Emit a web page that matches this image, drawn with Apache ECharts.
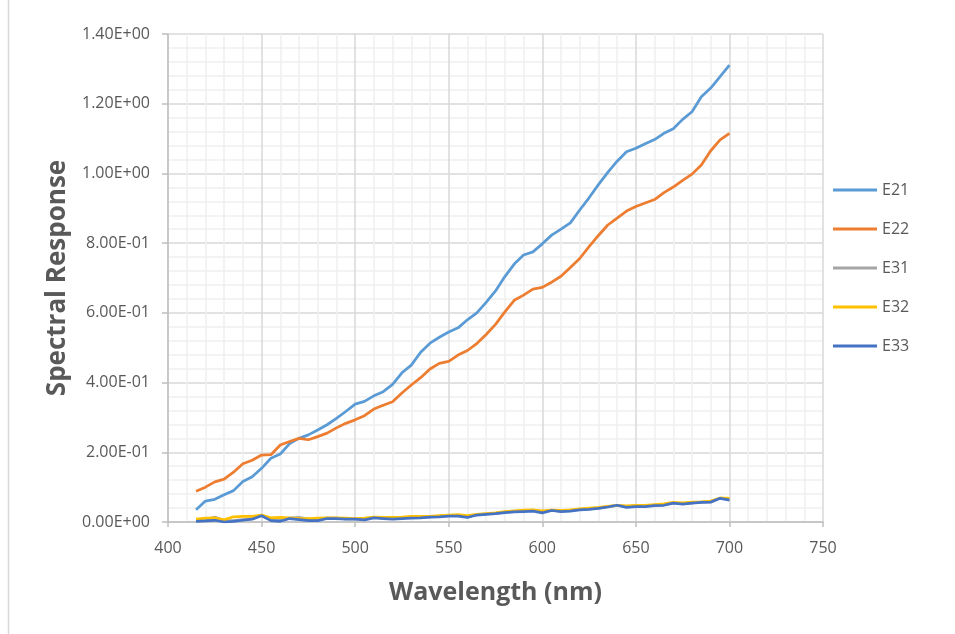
<!DOCTYPE html>
<html>
<head>
<meta charset="utf-8">
<script src="https://cdn.jsdelivr.net/npm/echarts@6/dist/echarts.min.js"></script>
<style>html,body{margin:0;padding:0;background:#fff}#c{width:955px;height:634px}</style>
</head>
<body>
<div id="c"></div>
<script>
const wavelengths = [415,420,425,430,435,440,445,450,455,460,465,470,475,480,485,490,495,500,505,510,515,520,525,530,535,540,545,550,555,560,565,570,575,580,585,590,595,600,605,610,615,620,625,630,635,640,645,650,655,660,665,670,675,680,685,690,695,700];
const E21 = [0.035,0.060,0.065,0.078,0.090,0.116,0.130,0.154,0.183,0.195,0.225,0.240,0.250,0.264,0.279,0.297,0.317,0.338,0.346,0.362,0.374,0.395,0.428,0.450,0.487,0.513,0.530,0.545,0.557,0.580,0.600,0.630,0.663,0.704,0.740,0.766,0.775,0.798,0.823,0.840,0.858,0.895,0.930,0.968,1.003,1.035,1.062,1.072,1.085,1.097,1.115,1.128,1.155,1.177,1.220,1.245,1.278,1.311];
const E22 = [0.088,0.100,0.115,0.123,0.143,0.167,0.177,0.192,0.193,0.221,0.231,0.240,0.236,0.245,0.255,0.270,0.283,0.293,0.305,0.324,0.335,0.345,0.370,0.393,0.414,0.439,0.455,0.461,0.479,0.492,0.512,0.538,0.567,0.603,0.636,0.651,0.668,0.673,0.688,0.705,0.730,0.756,0.790,0.822,0.852,0.872,0.892,0.905,0.915,0.925,0.945,0.961,0.980,0.998,1.024,1.065,1.096,1.115];
const E31 = [0.004,0.006,0.014,0.004,0.004,0.007,0.010,0.019,0.008,0.006,0.011,0.013,0.008,0.006,0.011,0.011,0.009,0.009,0.008,0.013,0.012,0.010,0.012,0.013,0.014,0.015,0.016,0.018,0.019,0.015,0.021,0.023,0.025,0.028,0.030,0.031,0.033,0.028,0.034,0.031,0.033,0.036,0.038,0.040,0.044,0.048,0.044,0.046,0.046,0.048,0.050,0.055,0.053,0.055,0.057,0.058,0.068,0.066];
const E32 = [0.008,0.011,0.012,0.006,0.015,0.016,0.016,0.020,0.012,0.013,0.012,0.010,0.010,0.011,0.012,0.012,0.011,0.010,0.011,0.014,0.013,0.013,0.014,0.016,0.016,0.016,0.018,0.020,0.021,0.018,0.022,0.024,0.026,0.030,0.032,0.034,0.035,0.032,0.034,0.033,0.035,0.038,0.040,0.042,0.045,0.048,0.046,0.048,0.048,0.050,0.052,0.056,0.055,0.057,0.058,0.060,0.069,0.068];
const E33 = [0.002,0.003,0.005,0.000,0.002,0.005,0.008,0.018,0.004,0.002,0.010,0.007,0.004,0.004,0.010,0.010,0.008,0.008,0.006,0.012,0.010,0.008,0.010,0.011,0.012,0.014,0.015,0.017,0.017,0.013,0.020,0.022,0.024,0.027,0.029,0.030,0.031,0.026,0.033,0.030,0.031,0.035,0.036,0.039,0.043,0.048,0.042,0.044,0.044,0.047,0.048,0.054,0.051,0.054,0.056,0.057,0.068,0.063];
const seriesNames = ['E21','E22','E31','E32','E33'];
const seriesValues = [E21,E22,E31,E32,E33];
const seriesColors = ['#5B9BD5','#ED7D31','#A5A5A5','#FFC000','#4472C4'];

function sci(v){
  if (v === 0) return '0.00E+00';
  let e = Math.floor(Math.log10(Math.abs(v)) + 1e-9);
  let m = v / Math.pow(10, e);
  if (Math.abs(m) >= 9.995) { m /= 10; e += 1; }
  const sign = e < 0 ? '-' : '+';
  const ae = Math.abs(e);
  return m.toFixed(2) + 'E' + sign + (ae < 10 ? '0' : '') + ae;
}

const chart = echarts.init(document.getElementById('c'), null, {renderer:'canvas'});
const fontFam = '"Open Sans", "Liberation Sans", sans-serif';
chart.setOption({
  animation: false,
  backgroundColor: '#ffffff',
  textStyle: {fontFamily: fontFam},
  graphic: [{type:'line', shape:{x1:8.5,y1:0,x2:8.5,y2:634}, style:{stroke:'#d9d9d9', lineWidth:1.5}, silent:true}],
  grid: {left:168, right:132, top:34, bottom:112},
  legend: {
    orient:'vertical', left:828, top:177, itemWidth:44, itemHeight:3, itemGap:23,
    icon:'rect',
    textStyle:{fontSize:16, color:'#595959', fontFamily: fontFam},
    data: seriesNames
  },
  xAxis: {
    type:'value', min:400, max:750, interval:50,
    name:'Wavelength (nm)', nameLocation:'middle', nameGap:58,
    nameTextStyle:{fontSize:25, fontWeight:'bold', color:'#595959', fontFamily: fontFam},
    axisLine:{show:true, lineStyle:{color:'#bfbfbf', width:1.5}},
    axisTick:{show:true, length:5, lineStyle:{color:'#bfbfbf', width:1.5}},
    axisLabel:{fontSize:16, color:'#595959', margin:18},
    splitLine:{show:true, lineStyle:{color:'#d9d9d9', width:1.5}},
    minorTick:{show:false, splitNumber:5},
    minorSplitLine:{show:true, lineStyle:{color:'#f0f0f0', width:1.5}}
  },
  yAxis: {
    type:'value', min:0, max:1.4, interval:0.2,
    name:'Spectral Response', nameLocation:'middle', nameGap:97,
    nameTextStyle:{fontSize:26, fontWeight:'bold', color:'#595959', fontFamily: fontFam},
    axisLine:{show:true, lineStyle:{color:'#bfbfbf', width:1.5}},
    axisTick:{show:true, length:6, lineStyle:{color:'#bfbfbf', width:1.5}},
    axisLabel:{fontSize:16, color:'#595959', margin:18, formatter: sci},
    splitLine:{show:true, lineStyle:{color:'#d9d9d9', width:1.5}},
    minorTick:{show:false, splitNumber:5},
    minorSplitLine:{show:true, lineStyle:{color:'#f0f0f0', width:1.5}}
  },
  series: seriesNames.map((n,i) => ({
    name:n, type:'line', showSymbol:false, symbol:'none',
    data: wavelengths.map((w,j) => [w, seriesValues[i][j]]),
    lineStyle:{color:seriesColors[i], width:2.75},
    itemStyle:{color:seriesColors[i]}
  }))
});
</script>
</body>
</html>
